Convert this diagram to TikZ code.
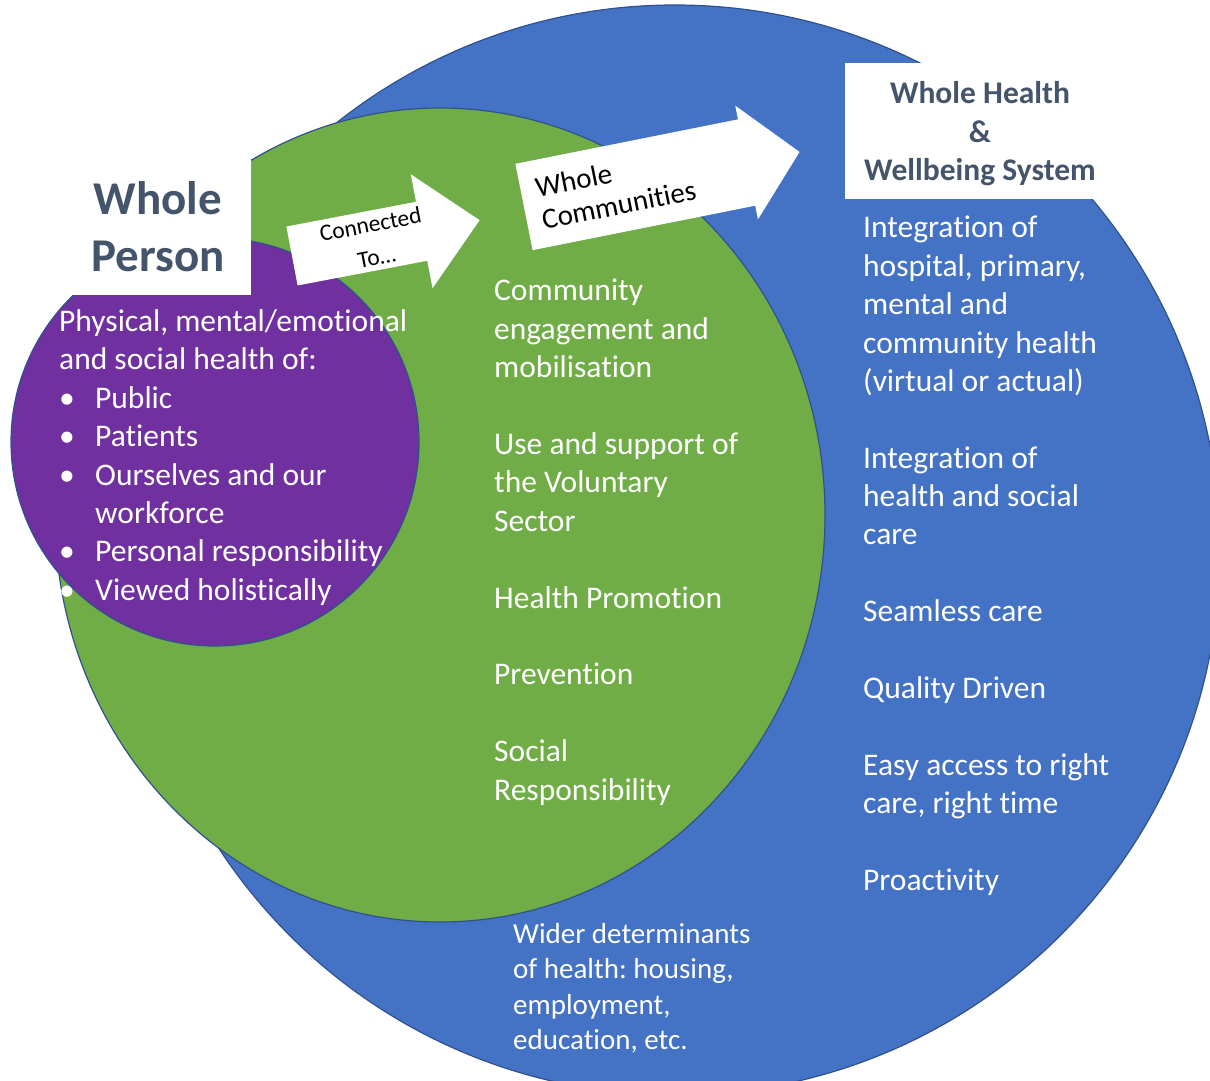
\documentclass[tikz,border=0pt]{standalone}
\usepackage{fontspec}
\setmainfont{Carlito}[Ligatures = NoCommon]
\frenchspacing

\definecolor{wholeblue}{HTML}{4472C4}
\definecolor{wholegreen}{HTML}{70AD47}
\definecolor{wholepurple}{HTML}{7030A0}
\definecolor{edgeblue}{HTML}{2F528F}
\definecolor{titlegrey}{HTML}{44546A}

\newcommand{\listdot}{\makebox[36pt][l]{\textbullet}}
\newcommand{\listgap}{\makebox[36pt]{}}

\tikzset{
	bubble/.style = {draw = edgeblue, line width = 1.2pt},
	whitebox/.style = {fill = white, inner sep = 0pt},
	bodytext/.style = {text = white, align = left, anchor = north west, inner sep = 0pt, font = \fontsize{31.5}{38.4}\selectfont},
	titletext/.style = {text = titlegrey, align = center, inner sep = 0pt},
	arrowtext/.style = {text = black, align = center, inner sep = 0pt}
}

\begin{document}
\begin{tikzpicture}[x = 1pt, y = -1pt]

	\useasboundingbox (0, 0) rectangle (1210, 1081);

	% Circles
	
	\draw [bubble, fill = wholeblue] (675, 550) circle [radius = 545];
	\draw [bubble, fill = wholegreen] (440, 515) ellipse [x radius = 385, y radius = 407];
	\draw [bubble, fill = wholepurple] (215, 442) circle [radius = 204];
	
	% Title boxes
	
	\node [whitebox, minimum width = 181, minimum height = 135] (personbox) at (160.5, 227.5) {};
	\node [titletext, font = \bfseries\fontsize{47}{57}\selectfont] (person) at (158, 227) {Whole\\Person};
	
	\node [whitebox, minimum width = 254, minimum height = 136] (systembox) at (972, 131) {};
	\node [titletext, font = \bfseries\fontsize{31.5}{38.5}\selectfont] (system) at (980, 134) {Whole Health\\\&\\Wellbeing System};
	
	% Arrows
	
	\begin{scope}[shift = {(292, 256)}, rotate = 10.8]
		\fill [white] (0, -30) -- (132, -30) -- (132, -58) -- (191, 0) -- (132, 58) -- (132, 30) -- (0, 30) -- cycle;
		\node [arrowtext, rotate = 10.8, font = \fontsize{23.5}{33}\selectfont] (connected) at (83, 0) {Connected\\To…};
	\end{scope}
	
	\begin{scope}[shift = {(524, 207)}, rotate = 11.3]
		\fill [white] (0, -44) -- (227, -44) -- (227, -58) -- (281, 0) -- (227, 58) -- (227, 44) -- (0, 44) -- cycle;
		\node [arrowtext, anchor = west, align = left, rotate = 11.3, font = \fontsize{29}{33}\selectfont] (communities) at (15, 0) {Whole\\Communities};
	\end{scope}
	
	% Texts
	
	\node [bodytext] (individual) at (59, 309.5) {Physical, mental/emotional\\and social health of:\\\listdot Public\\\listdot Patients\\\listdot Ourselves and our\\\listgap workforce\\\listdot Personal responsibility\\\listdot Viewed holistically};
	
	\node [bodytext] (community) at (494, 279) {Community\\engagement and\\mobilisation\\[38.4pt]Use and support of\\the Voluntary\\Sector\\[38.4pt]Health Promotion\\[38.4pt]Prevention\\[38.4pt]Social\\Responsibility};
	
	\node [bodytext] (integration) at (863, 216) {Integration of\\hospital, primary,\\mental and\\community health\\(virtual or actual)\\[38.3pt]Integration of\\health and social\\care\\[38.3pt]Seamless care\\[38.3pt]Quality Driven\\[38.3pt]Easy access to right\\care, right time\\[38.3pt]Proactivity};
	
	\node [bodytext, font = \fontsize{29}{35.5}\selectfont] (determinants) at (513, 923) {Wider determinants\\of health: housing,\\employment,\\education, etc.};

\end{tikzpicture}
\end{document}
